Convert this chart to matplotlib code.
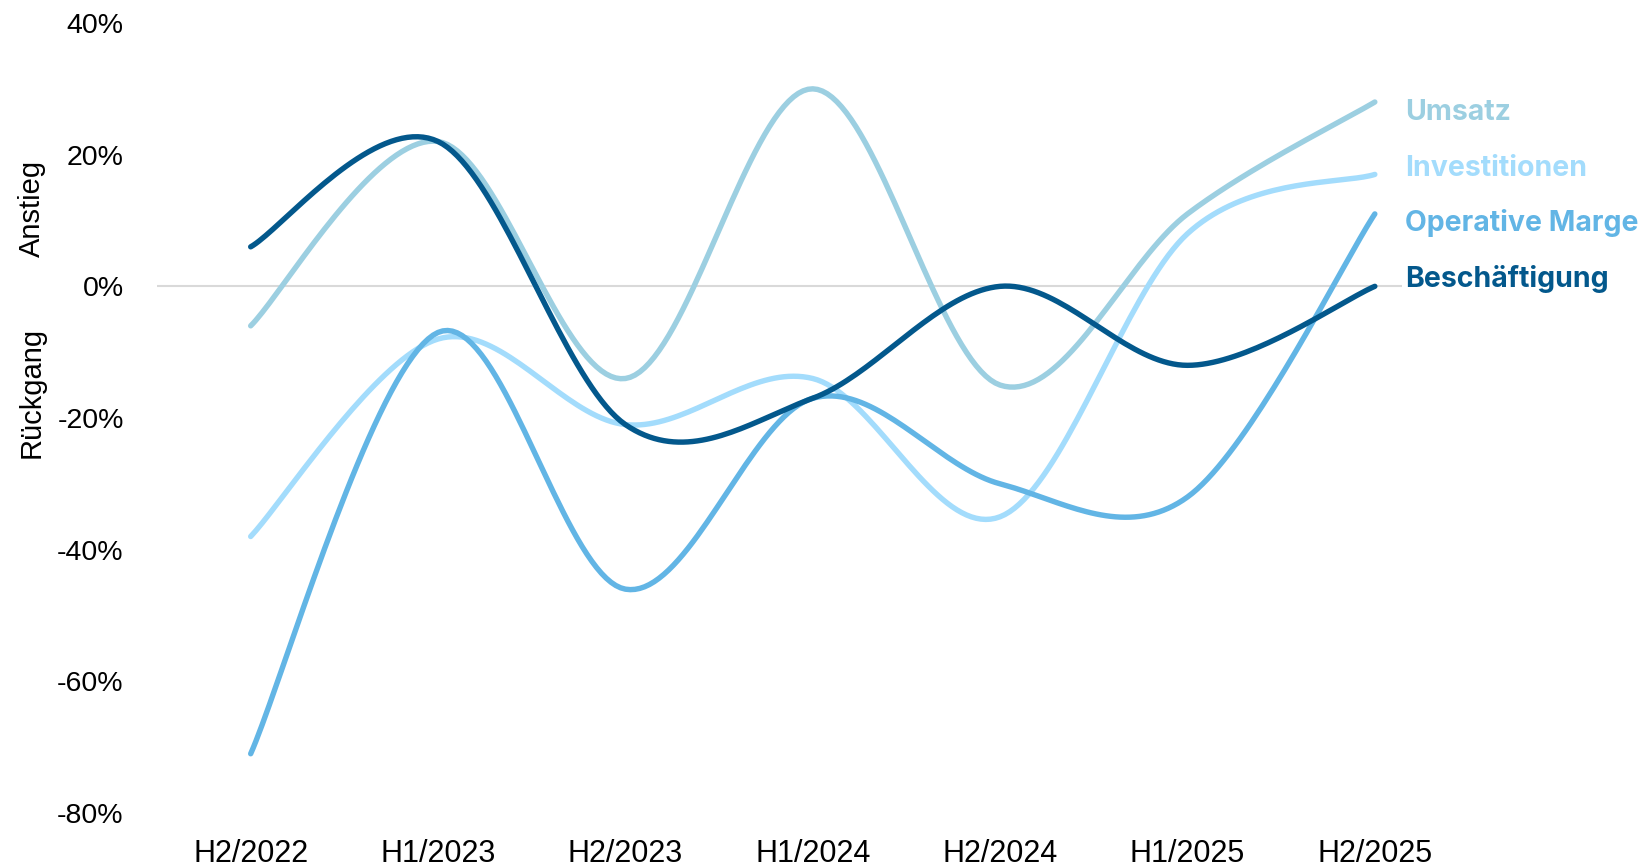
import numpy as np
import matplotlib.pyplot as plt

periods = ['H2/2022', 'H1/2023', 'H2/2023', 'H1/2024', 'H2/2024', 'H1/2025', 'H2/2025']
umsatz = [-6, 22, -14, 30, -15, 11, 28]
investitionen = [-38, -8, -21, -14, -35, 8, 17]
op_marge = [-71, -7, -46, -17, -30, -32, 11]
beschaeftigung = [6, 22, -21, -17, 0, -12, 0]

series = [
    ('Umsatz', umsatz, '#9CCFE1'),
    ('Investitionen', investitionen, '#A3DCFC'),
    ('Operative Marge', op_marge, '#62B5E5'),
    ('Beschäftigung', beschaeftigung, '#03588C'),
]


def smooth(y, n=40):
    # excel-like smoothing: cubic bezier with catmull-rom control points
    x = np.arange(len(y), dtype=float)
    y = np.asarray(y, dtype=float)
    px = np.concatenate([[x[0]], x, [x[-1]]])
    py = np.concatenate([[y[0]], y, [y[-1]]])
    t = np.linspace(0, 1, n)
    xs, ys = [], []
    for i in range(len(y) - 1):
        p0 = np.array([px[i + 1], py[i + 1]])
        p3 = np.array([px[i + 2], py[i + 2]])
        c1 = p0 + (p3 - np.array([px[i], py[i]])) / 6
        c2 = p3 - (np.array([px[i + 3], py[i + 3]]) - p0) / 6
        b = ((1 - t) ** 3)[:, None] * p0 + (3 * (1 - t) ** 2 * t)[:, None] * c1 \
            + (3 * (1 - t) * t ** 2)[:, None] * c2 + (t ** 3)[:, None] * p3
        xs.append(b[:, 0])
        ys.append(b[:, 1])
    return np.concatenate(xs), np.concatenate(ys)


fig = plt.figure(figsize=(16.44, 8.68), dpi=100)
ax = fig.add_axes([157 / 1644, 1 - 813 / 868, (1402 - 157) / 1644, (813 - 23) / 868])

ax.axhline(0, color='#D9D9D9', lw=1.5, zorder=1)
for name, vals, col in series:
    sx, sy = smooth(vals)
    ax.plot(sx, sy, color=col, lw=3.9, solid_capstyle='round', zorder=3)

ax.set_xlim(-0.5, 6.145)
ax.set_ylim(-80, 40)
ax.set_yticks(np.arange(-80, 41, 20))
ax.set_yticklabels([f'{v}%' for v in range(-80, 41, 20)])
ax.set_xticks(range(len(periods)))
ax.set_xticklabels(periods)
ax.tick_params(length=0, labelsize=20.5, colors='black')
ax.tick_params(axis='y', pad=24)
ax.tick_params(axis='x', pad=19, labelsize=22)
for lab in ax.get_xticklabels() + ax.get_yticklabels():
    lab.set_fontfamily('Liberation Sans')
for s in ax.spines.values():
    s.set_visible(False)

label_y = [112, 168, 223, 279]
for (name, vals, col), py in zip(series, label_y):
    fig.text(1405 / 1644, 1 - py / 868, name, color=col, fontsize=20.5,
             fontweight='bold', family='Inter', va='center', ha='left')

fig.text(32 / 1644, 1 - 208 / 868, 'Anstieg', rotation=90, fontsize=21,
         family='Liberation Sans', va='center', ha='center')
fig.text(32 / 1644, 1 - 392 / 868, 'Rückgang', rotation=90, fontsize=21,
         family='Liberation Sans', va='center', ha='center')

plt.savefig('out.png', dpi=100)
